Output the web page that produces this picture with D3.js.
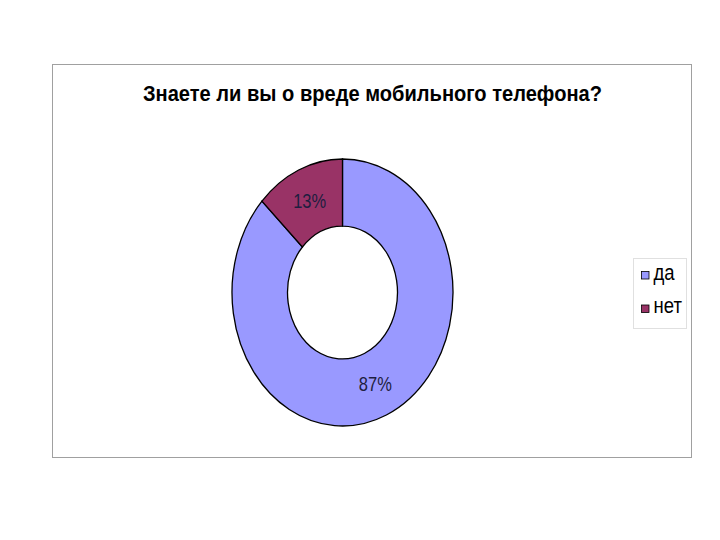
<!DOCTYPE html>
<html><head><meta charset="utf-8">
<script src="https://cdn.jsdelivr.net/npm/d3@7"></script>
<style>body{margin:0;background:#fff}</style>
</head><body>
<script>
const title = "Знаете ли вы о вреде мобильного телефона?";
const categories = ["да", "нет"];
const values = [87, 13];
const colors = ["#9999FF", "#993366"];

const W = 720, H = 540, SY = 1.22;
const svg = d3.select("body").append("svg").attr("width", W).attr("height", H)
  .style("font-family", "'Liberation Sans', Arial, sans-serif");

svg.append("rect").attr("x", 52.5).attr("y", 64.5).attr("width", 639).attr("height", 393)
  .attr("fill", "#fff").attr("stroke", "#a0a0a0");

svg.append("text").attr("transform", `translate(372.5,100.5) scale(1,1.06)`)
  .attr("text-anchor", "middle").attr("font-weight", "bold").attr("font-size", 20)
  .attr("textLength", 459).attr("lengthAdjust", "spacingAndGlyphs")
  .attr("fill", "#000").text(title);

const cx = 342.5, cy = 292.5, R = 110.5, r = 55;
const pie = d3.pie().sort(null).value(d => d)(values);
const arc = d3.arc().innerRadius(r).outerRadius(R);
const sy = 133.5 / 110.5;
const g = svg.append("g").attr("transform", `translate(${cx},${cy}) scale(1,${sy})`);
g.selectAll("path").data(pie).join("path")
  .attr("d", arc).attr("fill", (d, i) => colors[i])
  .attr("stroke", "#000").attr("stroke-width", 1.3)
  .attr("vector-effect", "non-scaling-stroke");

const total = d3.sum(values);
svg.selectAll("text.lbl").data(pie).join("text").attr("class", "lbl")
  .attr("transform", d => { const c = arc.centroid(d); return `translate(${cx + c[0]},${cy + c[1] * sy + 7}) scale(1,${SY})`; })
  .attr("text-anchor", "middle").attr("font-size", 16.5).attr("fill", "#1e1e40")
  .text(d => Math.round(d.data / total * 100) + "%");

const lg = svg.append("g");
lg.append("rect").attr("x", 633.5).attr("y", 258.5).attr("width", 53).attr("height", 70)
  .attr("fill", "#fff").attr("stroke", "#e0e0e0");
const items = lg.selectAll("g.it").data(categories).join("g").attr("class", "it")
  .attr("transform", (d, i) => `translate(641.5,${271.5 + i * 33.5})`);
items.append("rect").attr("width", 7.5).attr("height", 7.5)
  .attr("fill", (d, i) => colors[i]).attr("stroke", "#000").attr("stroke-width", 0.8);
items.append("text").attr("transform", `translate(12,8) scale(1,${SY})`)
  .attr("font-size", 18.5).attr("fill", "#000").text(d => d);
</script>
</body></html>
